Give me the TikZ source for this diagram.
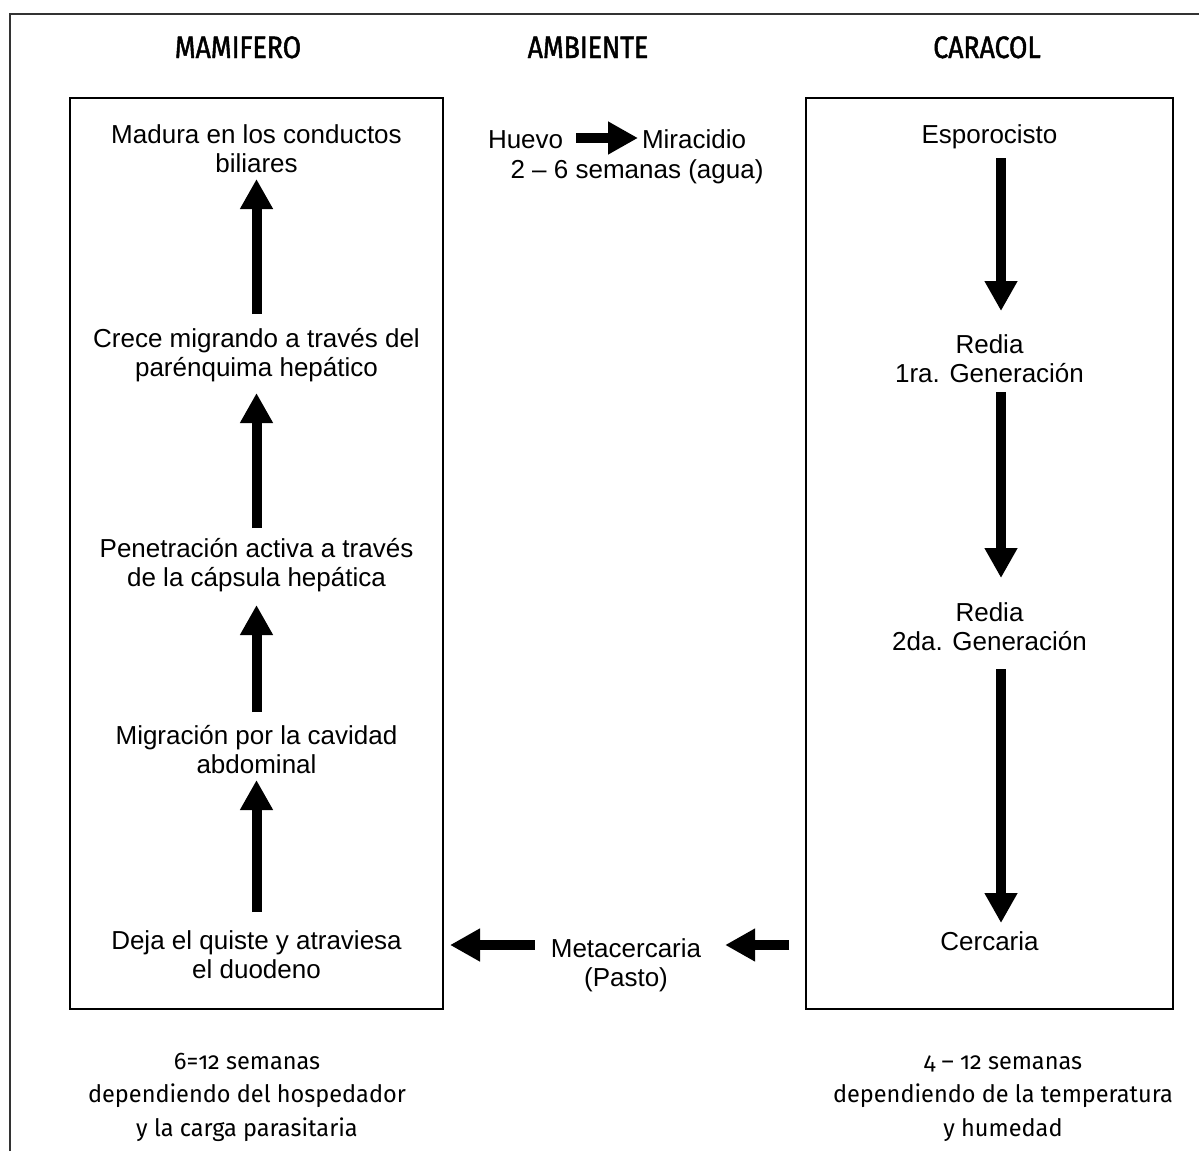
\documentclass[tikz,border=0pt]{standalone}
\usepackage{fontspec}
\usetikzlibrary{arrows.meta}
\newfontfamily\arialf{Liberation Sans}
\newfontfamily\hdrf{Fira Sans}[FakeStretch=0.86,FakeBold=1.5]
\newfontfamily\notef{Fira Sans}[Numbers=OldStyle,FakeStretch=0.98]
\newcommand\tst{\rule{0pt}{25pt}}
\newcommand\bst{\rule[-7pt]{0pt}{7pt}}
\newcommand\nst{\rule{0pt}{22pt}}
\tikzset{
  txt/.style={font=\arialf\fontsize{26}{29}\selectfont, align=center, inner sep=0pt, outer sep=0pt},
  hdr/.style={font=\hdrf\fontsize{31}{34}\selectfont, inner sep=0pt},
  note/.style={font=\notef\fontsize{24}{33.5}\selectfont, align=center, inner sep=0pt},
  panel/.style={draw=black, line width=2pt, minimum height=911pt, inner sep=0pt, outer sep=0pt},
  frameline/.style={draw=black!80, line width=1.5pt},
  fat/.style={line width=10pt, -{Triangle[width=31pt,length=30pt]}},
}
\begin{document}
\begin{tikzpicture}[x=1pt,y=-1pt]
\fill[white] (0,0) rectangle (1199,1151);
\useasboundingbox (0,0) rectangle (1199,1151);
% outer frame (top and left edges)
\draw[frameline] (10,1151) -- (10,14) -- (1199,14);
% headers
\node[hdr, anchor=base] (hm) at (238,58) {MAMIFERO};
\node[hdr, anchor=base] (ha) at (588,58) {AMBIENTE};
\node[hdr, anchor=base] (hc) at (987,58) {CARACOL};
% panels
\node[panel, minimum width=373pt] (lbox) at (256.5,553.5) {};
\node[panel, minimum width=367pt] (rbox) at (989.5,553.5) {};
% mammal column
\node[txt, anchor=north] (madura) at (256.5,118) {\tst Madura en los conductos\\biliares\bst};
\node[txt, anchor=north] (crece) at (256.5,322) {\tst Crece migrando a través del\\parénquima hepático\bst};
\node[txt, anchor=north] (penet) at (256.5,532) {\tst Penetración activa a través\\de la cápsula hepática\bst};
\node[txt, anchor=north] (migra) at (256.5,719) {\tst Migración por la cavidad\\abdominal\bst};
\node[txt, anchor=north] (deja) at (256.5,924) {\tst Deja el quiste y atraviesa\\el duodeno\bst};
% snail column
\node[txt, anchor=north] (espor) at (989.5,118) {\tst Esporocisto\bst};
\node[txt, anchor=north] (redia1) at (989.5,328) {\tst Redia\\1ra. Generación\bst};
\node[txt, anchor=north] (redia2) at (989.5,596) {\tst Redia\\2da. Generación\bst};
\node[txt, anchor=north] (cerc) at (989.5,925) {\tst Cercaria\bst};
% environment
\node[txt, anchor=base west] (huevo) at (488,148) {Huevo};
\node[txt, anchor=base west] (mira) at (642,148) {Miracidio};
\node[txt, anchor=base] (sem) at (637,178) {2 – 6 semanas (agua)};
\node[txt, anchor=north] (meta) at (626,932) {\tst Metacercaria\\(Pasto)\bst};
% notes
\node[note, anchor=north] (nl) at (247,1047) {\nst 6=12 semanas\\dependiendo del hospedador\\y la carga parasitaria};
\node[note, anchor=north] (nr) at (1003,1047) {\nst 4 – 12 semanas\\dependiendo de la temperatura\\y humedad};
% helper rows for horizontal arrows
\coordinate (hy) at (0,945);
\coordinate (hy2) at (0,138);
% arrows mammal
\draw[fat, shorten <=8pt, shorten >=0pt] (crece.north) -- (madura.south);
\draw[fat, shorten <=4pt, shorten >=10pt] (penet.north) -- (crece.south);
\draw[fat, shorten <=7pt, shorten >=12pt] (migra.north) -- (penet.south);
\draw[fat, shorten <=12pt, shorten >=0pt] (deja.north) -- (migra.south);
% arrows snail
\draw[fat, shorten <=8pt, shorten >=17pt] ([xshift=11.5pt]espor.south) -- ([xshift=11.5pt]redia1.north);
\draw[fat, shorten <=3pt, shorten >=18pt] ([xshift=11.5pt]redia1.south) -- ([xshift=11.5pt]redia2.north);
\draw[fat, shorten <=12pt, shorten >=2pt] ([xshift=11.5pt]redia2.south) -- ([xshift=11.5pt]cerc.north);
% horizontal arrows
\draw[fat, shorten <=17pt, shorten >=24pt] (rbox.west |- hy) -- (meta.east |- hy);
\draw[fat, shorten <=16pt, shorten >=7pt] (meta.west |- hy) -- (lbox.east |- hy);
\draw[fat, shorten <=13pt, shorten >=4pt] (huevo.east |- hy2) -- (mira.west |- hy2);
\end{tikzpicture}
\end{document}
